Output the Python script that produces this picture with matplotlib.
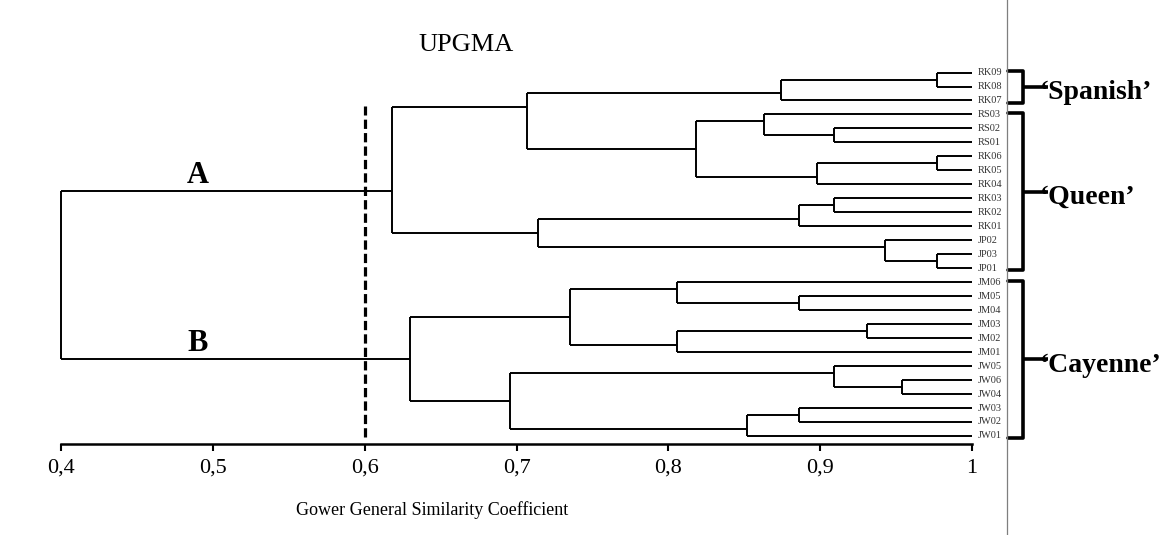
import matplotlib.pyplot as plt
from matplotlib.lines import Line2D

plt.rcParams['font.family'] = ['Liberation Serif', 'DejaVu Serif']

# hojas de arriba a abajo
leaves = ["RK09", "RK08", "RK07", "RS03", "RS02", "RS01", "RK06", "RK05", "RK04",
          "RK03", "RK02", "RK01", "JP02", "JP03", "JP01",
          "JM06", "JM05", "JM04", "JM03", "JM02", "JM01",
          "JW05", "JW06", "JW04", "JW03", "JW02", "JW01"]

# uniones UPGMA (hijo de arriba, hijo de abajo, similitud)
nodes = ["n1", "n2", "n3", "n4", "n5", "n6", "n7", "n8", "n9", "n10", "n11", "n12", "n13", "A",
         "n14", "n15", "n16", "n17", "n18", "n19", "n20", "n21", "n22", "n23", "B", "root"]
top_child = ["RK09", "n1", "RS02", "RS03", "RK06", "n5", "n4", "n2", "RK03", "n9", "JP03", "JP02", "n10", "n8",
             "JM05", "JM06", "JM03", "n16", "n15", "JW06", "JW05", "JW03", "n21", "n20", "n18", "A"]
bottom_child = ["RK08", "RK07", "RS01", "n3", "RK05", "RK04", "n6", "n7", "RK02", "RK01", "JP01", "n11", "n12", "n13",
                "JM04", "n14", "JM02", "JM01", "n17", "JW04", "n19", "JW02", "JW01", "n22", "n23", "B"]
similarity = [0.977, 0.874, 0.909, 0.863, 0.977, 0.898, 0.818, 0.707, 0.909, 0.886, 0.977, 0.943, 0.714, 0.618,
              0.886, 0.806, 0.931, 0.806, 0.735, 0.954, 0.909, 0.886, 0.852, 0.696, 0.630, 0.40]

clade_names = ["A", "B"]
groups = ["\u2018Spanish\u2019", "\u2018Queen\u2019", "\u2018Cayenne\u2019"]
group_first = ["RK09", "RS03", "JM06"]
group_last = ["RK07", "JP01", "JW01"]

xticks = [0.4, 0.5, 0.6, 0.7, 0.8, 0.9, 1.0]
xticklabels = ["0,4", "0,5", "0,6", "0,7", "0,8", "0,9", "1"]
cut_level = 0.6

fig = plt.figure(figsize=(11.72, 5.35), dpi=100)
ax = fig.add_axes([0.05205, 0.171, 0.7773, 0.7355])

# posiciones: hojas en orden, nodo en la frontera entre sus dos hijos
first = {n: i for i, n in enumerate(leaves)}
last = {n: i for i, n in enumerate(leaves)}
ypos = {n: float(i) for i, n in enumerate(leaves)}
xpos = {n: 1.0 for n in leaves}
for name, a, b, s in zip(nodes, top_child, bottom_child, similarity):
    first[name] = first[a]
    last[name] = last[b]
    ypos[name] = (last[a] + first[b]) / 2
    xpos[name] = s

lw = 1.4
for name, a, b, s in zip(nodes, top_child, bottom_child, similarity):
    ax.plot([s, s], [ypos[a], ypos[b]], color="k", lw=lw, solid_capstyle="butt", clip_on=False)
    ax.plot([xpos[a], s], [ypos[a], ypos[a]], color="k", lw=lw, solid_capstyle="butt", clip_on=False)
    ax.plot([xpos[b], s], [ypos[b], ypos[b]], color="k", lw=lw, solid_capstyle="butt", clip_on=False)

for n in leaves:
    ax.text(1.004, ypos[n], n, fontsize=7.5, va="center", ha="left", color="#333333")

for c in clade_names:
    ax.text(0.49, ypos[c] - 0.1, c, fontsize=22, fontweight="bold", ha="center", va="bottom")

# linea de corte
ax.axvline(cut_level, ymin=0.017, ymax=0.858, color="k", lw=2.3, dashes=(2.9, 1.3))

# llaves de los grupos
for g, f, l in zip(groups, group_first, group_last):
    y0 = first[f] - 0.1
    y1 = last[l] + 0.15
    ym = (y0 + y1) / 2
    ax.plot([1.0238, 1.0337, 1.0337, 1.0238], [y0, y0, y1, y1], color="k", lw=2.6,
            solid_joinstyle="round", solid_capstyle="round", clip_on=False)
    ax.plot([1.0337, 1.0502], [ym, ym], color="k", lw=2.6, solid_capstyle="butt", clip_on=False)
    ax.text(1.0446, ym + 0.4, g, fontsize=20, fontweight="bold", ha="left", va="center")

ax.set_xlim(0.4, 1.0)
ax.set_ylim(26.54, -1.61)
ax.set_yticks([])
ax.set_xticks(xticks)
ax.set_xticklabels(xticklabels)
ax.tick_params(axis="x", direction="out", length=5, width=1.5, pad=6, labelsize=16)
for side in ["top", "left", "right"]:
    ax.spines[side].set_visible(False)
ax.spines["bottom"].set_linewidth(1.8)

fig.text(466 / 1172, 1 - 45 / 535, "UPGMA", fontsize=19, ha="center", va="center")
fig.text(432 / 1172, 1 - 510 / 535, "Gower General Similarity Coefficient", fontsize=13,
         ha="center", va="center")

# linea gris vertical a la derecha
fig.add_artist(Line2D([1007 / 1172, 1007 / 1172], [0, 1], color="#7f7f7f", lw=0.9))

fig.savefig("out.png", dpi=100)
